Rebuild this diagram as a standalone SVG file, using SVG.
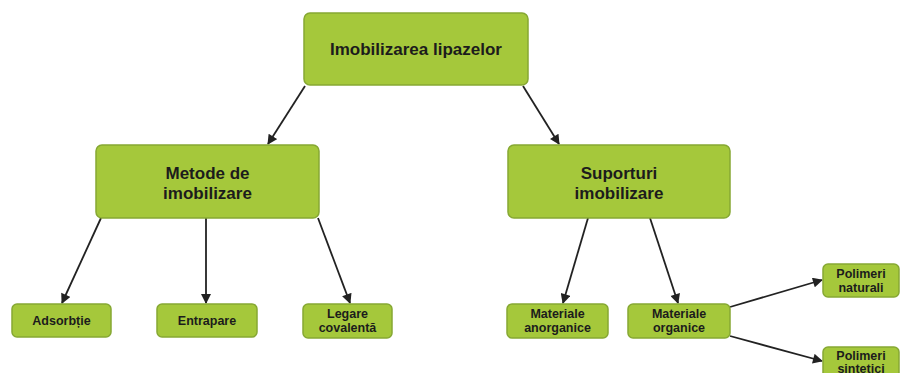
<svg xmlns="http://www.w3.org/2000/svg" width="912" height="373" viewBox="0 0 912 373">
<style>
.box{fill:#a5c83b;stroke:#86a833;stroke-width:1.5}
.t{font-family:"Liberation Sans",Arial,sans-serif;font-weight:bold;fill:#1c1c1c;text-anchor:middle}
.big{font-size:17px}
.sm{font-size:12.5px}
.c{stroke:#222;stroke-width:1.8;fill:none;marker-end:url(#ah)}
</style>
<defs>
<marker id="ah" viewBox="0 0 10 10" refX="9" refY="5" markerWidth="11" markerHeight="10" markerUnits="userSpaceOnUse" orient="auto">
<path d="M0,0 L10,5 L0,10 z" fill="#222"/>
</marker>
</defs>
<rect width="912" height="373" fill="#fff"/>
<g id="connectors">
<line class="c" x1="305" y1="86" x2="268" y2="144"/>
<line class="c" x1="523" y1="86" x2="559" y2="144"/>
<line class="c" x1="101" y1="218" x2="62" y2="303"/>
<line class="c" x1="206" y1="218" x2="206" y2="303"/>
<line class="c" x1="318" y1="218" x2="350" y2="303"/>
<line class="c" x1="588" y1="218" x2="563" y2="303"/>
<line class="c" x1="650" y1="218" x2="678" y2="303"/>
<line class="c" x1="730" y1="307" x2="822" y2="280"/>
<line class="c" x1="730" y1="336" x2="822" y2="361"/>
</g>
<g id="n-imobilizarea">
<rect class="box" x="304" y="13" width="224" height="72" rx="6"/>
<text class="t big" x="416" y="55">Imobilizarea lipazelor</text>
</g>
<g id="n-metode">
<rect class="box" x="96" y="145" width="223" height="73" rx="6"/>
<text class="t big" x="207.5" y="179">Metode de</text>
<text class="t big" x="207.5" y="199">imobilizare</text>
</g>
<g id="n-suporturi">
<rect class="box" x="508" y="145" width="222" height="73" rx="6"/>
<text class="t big" x="619" y="179">Suporturi</text>
<text class="t big" x="619" y="199">imobilizare</text>
</g>
<g id="n-adsorbtie">
<rect class="box" x="12" y="304" width="99" height="33" rx="5"/>
<text class="t sm" x="61.5" y="325">Adsorbție</text>
</g>
<g id="n-entrapare">
<rect class="box" x="157" y="304" width="100" height="33" rx="5"/>
<text class="t sm" x="207" y="325">Entrapare</text>
</g>
<g id="n-legare">
<rect class="box" x="303" y="304" width="89" height="34" rx="5"/>
<text class="t sm" x="347.5" y="318">Legare</text>
<text class="t sm" x="347.5" y="332">covalentă</text>
</g>
<g id="n-anorganice">
<rect class="box" x="507" y="304" width="101" height="34" rx="5"/>
<text class="t sm" x="557.5" y="318">Materiale</text>
<text class="t sm" x="557.5" y="332">anorganice</text>
</g>
<g id="n-organice">
<rect class="box" x="628" y="304" width="102" height="34" rx="5"/>
<text class="t sm" x="679" y="318">Materiale</text>
<text class="t sm" x="679" y="332">organice</text>
</g>
<g id="n-naturali">
<rect class="box" x="823" y="264" width="76" height="33" rx="5"/>
<text class="t sm" x="861" y="278">Polimeri</text>
<text class="t sm" x="861" y="292">naturali</text>
</g>
<g id="n-sintetici">
<rect class="box" x="823" y="347" width="76" height="33" rx="5"/>
<text class="t sm" x="861" y="360">Polimeri</text>
<text class="t sm" x="861" y="373">sintetici</text>
</g>
</svg>
